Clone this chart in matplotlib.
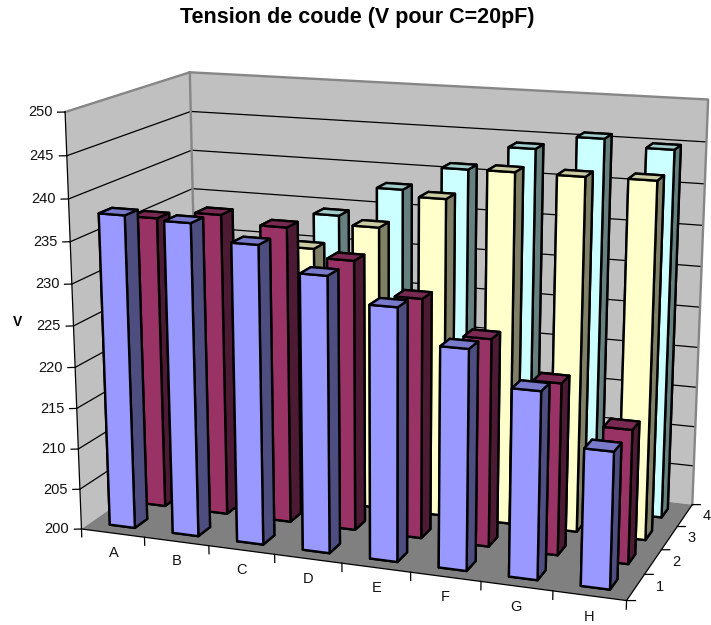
import numpy as np
import matplotlib
matplotlib.use('Agg')
import matplotlib.pyplot as plt
from mpl_toolkits.mplot3d import proj3d
from mpl_toolkits.mplot3d.art3d import Poly3DCollection

plt.rcParams['font.family'] = ['Liberation Sans', 'DejaVu Sans']

categories = ['A', 'B', 'C', 'D', 'E', 'F', 'G', 'H']
series_names = ['1', '2', '3', '4']
z_ticks = [200, 205, 210, 215, 220, 225, 230, 235, 240, 245, 250]

serie_1 = [238, 237.7, 235.8, 232.9, 230, 226, 222, 216]
serie_2 = [236, 237, 236.1, 232.8, 229, 225, 220.6, 216]
serie_3 = [226, 228, 231.8, 235, 239, 242.7, 242.7, 242.8]
serie_4 = [228, 230, 234.2, 238, 241, 244, 245.7, 244.9]
all_series = [serie_1, serie_2, serie_3, serie_4]

# front, side, top
face_colors = [('#9999FF', '#4D4D80', '#7A7ACC'),
               ('#993366', '#4D1A33', '#7A2952'),
               ('#FFFFCC', '#808066', '#CCCCA3'),
               ('#CCFFFF', '#668080', '#A3CCCC')]

W, H = 711, 625
X1, Y1, Z0, Z1 = 8, 4, 200, 250

# corners of the box as seen on the reference, used to fit the camera
corners_3d = [(0, 0, Z0), (X1, 0, Z0), (X1, Y1, Z0), (0, Y1, Z0),
              (0, 0, Z1), (X1, Y1, Z1), (0, Y1, Z1)]
corners_px = [(81, 526), (627, 603), (692, 502), (199, 451),
              (65, 113), (708, 100), (190, 71)]


def fit_camera():
    rows = []
    for (x, y, z), (u, v) in zip(corners_3d, corners_px):
        v = H - v
        z = z - Z0
        rows.append([x, y, z, 1, 0, 0, 0, 0, -u*x, -u*y, -u*z, -u])
        rows.append([0, 0, 0, 0, x, y, z, 1, -v*x, -v*y, -v*z, -v])
    p = np.linalg.svd(np.array(rows, dtype=float))[2][-1].reshape(3, 4)
    if p[2, 3] < 0:
        p = -p
    # z is fitted relative to Z0
    p[:, 3] -= p[:, 2]*Z0
    return p


camera = fit_camera()

fig = plt.figure(figsize=(W/100, H/100), dpi=100)
ax = fig.add_axes([0, 0, 1, 1], projection='3d')
ax.apply_aspect = lambda position=None: None
ax.set_axis_off()
ax.computed_zorder = False


def get_proj():
    to_ax = ax.transData.inverted().get_matrix()
    p = to_ax @ camera
    return np.vstack([p[0], p[1], [0, 0, 0, -p[2, 3]], p[2]])


ax.get_proj = get_proj


def label(x, y, z, s, ha='center'):
    # labels stay flat, so place them once at their projected spot
    px, py, _ = proj3d.proj_transform(x, y, z, ax.get_proj())
    ax.text2D(px, py, s, transform=ax.transData, ha=ha, va='center', fontsize=10.5, color='#111111')


# walls and floor
back = [(0, Y1, Z0), (X1, Y1, Z0), (X1, Y1, Z1), (0, Y1, Z1)]
left = [(0, 0, Z0), (0, Y1, Z0), (0, Y1, Z1), (0, 0, Z1)]
floor = [(0, 0, Z0), (X1, 0, Z0), (X1, Y1, Z0), (0, Y1, Z0)]
for verts, col, zo in [(back, '#C0C0C0', 1), (left, '#C0C0C0', 1), (floor, '#808080', 2)]:
    ax.add_collection3d(Poly3DCollection([verts], facecolors=col, edgecolors='none', zorder=zo))

# gridlines on the walls
for z in z_ticks[1:-1]:
    ax.plot([0, 0, X1], [0, Y1, Y1], [z, z, z], color='black', lw=0.9, zorder=3)
for xs, ys, zs in [([0, X1, X1], [Y1, Y1, Y1], [Z1, Z1, Z0]),
                   ([0, 0], [0, Y1], [Z1, Z1]),
                   ([0, 0], [Y1, Y1], [Z0, Z1])]:
    ax.plot(xs, ys, zs, color='#868686', lw=1.7, zorder=3, solid_capstyle='projecting')

# axis lines and ticks
ax.plot([0, 0, X1, X1], [0, 0, 0, Y1], [Z1, Z0, Z0, Z0], color='black', lw=0.9, zorder=4)
for z in z_ticks:
    ax.plot([0, -0.091], [0, -0.043], [z, z], color='black', lw=0.9, zorder=4)
    label(-0.155, -0.075, z, str(z), ha='right')
for i in range(len(categories) + 1):
    ax.plot([i, i], [0, 0], [Z0, Z0 - 1], color='black', lw=0.9, zorder=4)
for j in range(len(series_names) + 1):
    ax.plot([X1, X1 + 0.11], [j, j + 0.04], [Z0, Z0], color='black', lw=0.9, zorder=4)
for i, name in enumerate(categories):
    label(i + 0.5, 0, Z0 - 2.45, name)
for j, name in enumerate(series_names):
    label(X1 + 0.3, j + 0.6, Z0, name)

# bars, back row first, gap of 150 % in both directions
bar_w = 0.4
for j in range(3, -1, -1):
    front, side, top = face_colors[j]
    for i, val in enumerate(all_series[j]):
        cols = [front, top, front, front, side, side]
        ax.bar3d(i + 0.3, j + 0.3, Z0, bar_w, bar_w, val - Z0, color=cols, shade=False,
                 edgecolor='black', linewidth=1.7, zorder=10 + (3 - j)*10 + i*0.5)

fig.text(357.5/W, 1 - 17/H, 'Tension de coude (V pour C=20pF)', ha='center', va='center',
         fontsize=15.5, fontweight='bold')
fig.text(18/W, 1 - 322/H, 'V', ha='center', va='center', fontsize=10, fontweight='bold')

fig.savefig('out.png', dpi=100)
